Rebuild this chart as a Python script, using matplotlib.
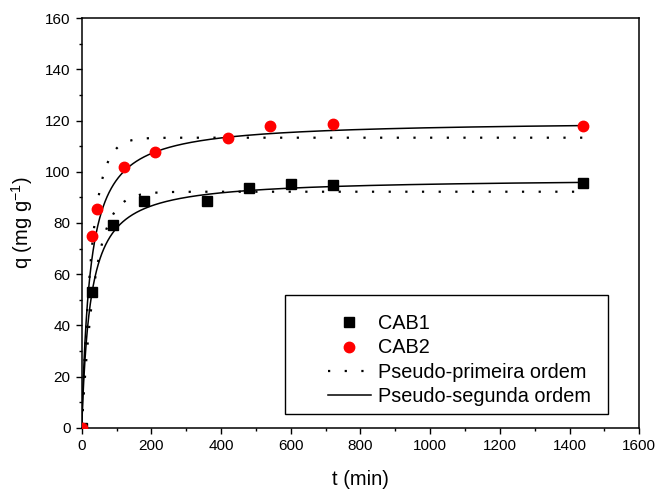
import numpy as np
import matplotlib
matplotlib.use("Agg")
import matplotlib.pyplot as plt
from matplotlib.ticker import MultipleLocator
from matplotlib.patches import Rectangle

plt.rcParams["font.family"] = ["Liberation Sans", "DejaVu Sans"]
plt.rcParams["mathtext.fontset"] = "custom"
plt.rcParams["mathtext.rm"] = "Liberation Sans"
plt.rcParams["mathtext.default"] = "regular"

# ------------------------------------
# Experimental data read from the figure
# ------------------------------------
t_cab1 = [0, 30, 90, 180, 360, 480, 600, 720, 1440]
q_cab1 = [0, 53.2, 79.2, 88.7, 88.6, 93.5, 95.1, 94.7, 95.7]

t_cab2 = [0, 30, 45, 120, 210, 420, 540, 720, 1440]
q_cab2 = [0, 75.0, 85.3, 101.9, 107.7, 113.0, 117.8, 118.8, 117.8]

# Fitted kinetic parameters (estimated from the plotted curves)
pfo_qe = [92.2, 113.3]       # mg/g
pfo_k1 = [0.026, 0.033]      # 1/min
pso_qe = [97.5, 120.0]       # mg/g
pso_k2 = [1 / (25 * 97.5), 1 / (24 * 120.0)]  # g/(mg min)

t_fit = np.linspace(0, 1440, 2000)

fig = plt.figure(figsize=(6.59, 4.90), dpi=100)
ax = fig.add_axes([0.124, 0.127, 0.846, 0.836])

ax.plot(t_cab1, q_cab1, "s", color="black", markersize=6.5, label="CAB1", zorder=3)
ax.plot(t_cab2, q_cab2, "o", color="#ff0000", markersize=7.5, label="CAB2", zorder=3)

for i in range(2):
    q1 = pfo_qe[i] * (1 - np.exp(-pfo_k1[i] * t_fit))
    q2 = pso_qe[i] ** 2 * pso_k2[i] * t_fit / (1 + pso_qe[i] * pso_k2[i] * t_fit)
    ax.plot(t_fit, q1, color="black", linewidth=1.6, linestyle=(0, (1, 6.5)),
            label="Pseudo-primeira ordem" if i == 0 else None)
    ax.plot(t_fit, q2, color="black", linewidth=1.1,
            label="Pseudo-segunda ordem" if i == 0 else None)

ax.set_xlim(0, 1600)
ax.set_ylim(0, 160)
ax.xaxis.set_major_locator(MultipleLocator(200))
ax.xaxis.set_minor_locator(MultipleLocator(100))
ax.yaxis.set_major_locator(MultipleLocator(20))
ax.yaxis.set_minor_locator(MultipleLocator(10))
ax.tick_params(which="major", direction="out", length=4.5, width=1, labelsize=11)
ax.tick_params(which="minor", direction="out", length=2.5, width=1)
for s in ax.spines.values():
    s.set_linewidth(1.1)

ax.set_xlabel("t (min)", fontsize=14.5, labelpad=12)
ax.set_ylabel("q (mg g$^{-1}$)", fontsize=14.5, labelpad=7)

# legend: frame drawn separately so the box can be wider than its content
ax.add_patch(Rectangle((0.3645, 0.034), 0.58, 0.2904, transform=ax.transAxes,
                       facecolor="white", edgecolor="black", linewidth=1.0, zorder=4))
leg = ax.legend(loc="upper left", bbox_to_anchor=(0.4417, 0.277), fontsize=14.3,
                frameon=False, borderpad=0, labelspacing=0.26, handlelength=2.15,
                handletextpad=0.35, borderaxespad=0)
leg.set_zorder(5)

fig.savefig("out.png", dpi=100)
plt.close(fig)
